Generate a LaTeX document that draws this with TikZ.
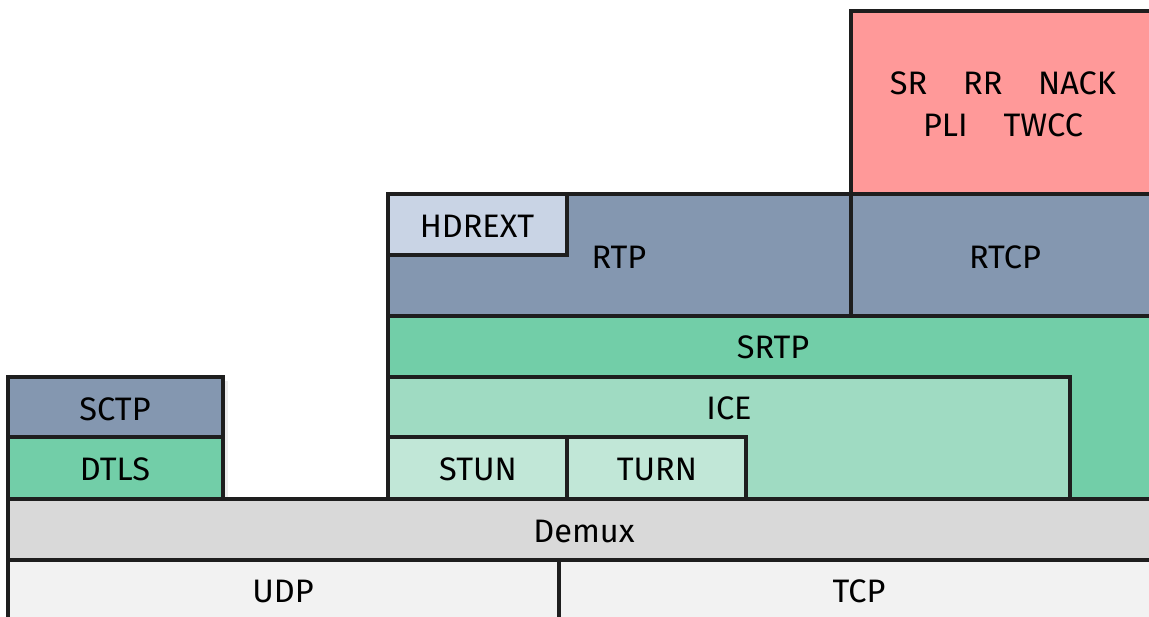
\documentclass[tikz,border=0pt]{standalone}
\usepackage{fontspec}
\setmainfont{Fira Sans}
\usetikzlibrary{positioning}
\definecolor{lineDark}{HTML}{1E1E1E}
\definecolor{rtcpRed}{HTML}{FF9999}
\definecolor{rtpBlue}{HTML}{8497B0}
\definecolor{extBlue}{HTML}{C9D4E5}
\definecolor{srtpGreen}{HTML}{72CEA8}
\definecolor{iceGreen}{HTML}{9FDBC2}
\definecolor{stunGreen}{HTML}{C1E7D7}
\definecolor{demuxGray}{HTML}{D9D9D9}
\definecolor{baseGray}{HTML}{F2F2F2}

\begin{document}
\begin{tikzpicture}[x=0.02cm, y=-0.02cm,
    layer/.style={draw=lineDark, line width=2pt},
    lbl/.style={font=\fontsize{18.5}{24}\selectfont, text=black, align=center}]
    \useasboundingbox (0,0) rectangle (1149,616);
    \clip (0,0) rectangle (1149,616);

    % transport
    \draw[layer, fill=baseGray] (8,560) rectangle (559,640);
    \draw[layer, fill=baseGray] (559,560) rectangle (1170,640);
    \draw[layer, fill=demuxGray] (8,499) rectangle (1170,560);
    \node[lbl] (udp) at (283,591) {UDP};
    \node[lbl] (tcp) at (859,591) {TCP};
    \node[lbl] (demux) at (584,531) {Demux};

    % data channel stack
    \fill[black!7] (224,381) rectangle (228,497);
    \draw[layer, fill=srtpGreen] (8,437) rectangle (223,499);
    \draw[layer, fill=rtpBlue] (8,377) rectangle (223,437);
    \node[lbl] (dtls) at (115,469) {DTLS};
    \node[lbl] (sctp) at (115,409) {SCTP};

    % media stack
    \draw[layer, fill=srtpGreen] (388,316) rectangle (1170,499);
    \draw[layer, fill=iceGreen] (388,377) rectangle (1070,499);
    \draw[layer, fill=stunGreen] (388,437) rectangle (567,499);
    \draw[layer, fill=stunGreen] (567,437) rectangle (746,499);
    \node[lbl] (srtp) at (773,347) {SRTP};
    \node[lbl] (ice) at (729,408) {ICE};
    \node[lbl] (stun) at (478,469) {STUN};
    \node[lbl] (turn) at (657,469) {TURN};

    \draw[layer, fill=rtpBlue] (388,194) rectangle (851,316);
    \draw[layer, fill=extBlue] (388,194) rectangle (567,255);
    \draw[layer, fill=rtpBlue] (851,194) rectangle (1170,316);
    \node[lbl] (rtp) at (619,257) {RTP};
    \node[lbl] (hdrext) at (477,226) {HDREXT};
    \node[lbl] (rtcp) at (1005,257) {RTCP};

    % feedback
    \draw[layer, fill=rtcpRed] (851,11) rectangle (1170,194);
    \node[lbl] (fb) at (1003,104) {SR\hspace{1.1em}RR\hspace{1.1em}NACK\\PLI\hspace{1.1em}TWCC};
\end{tikzpicture}
\end{document}
